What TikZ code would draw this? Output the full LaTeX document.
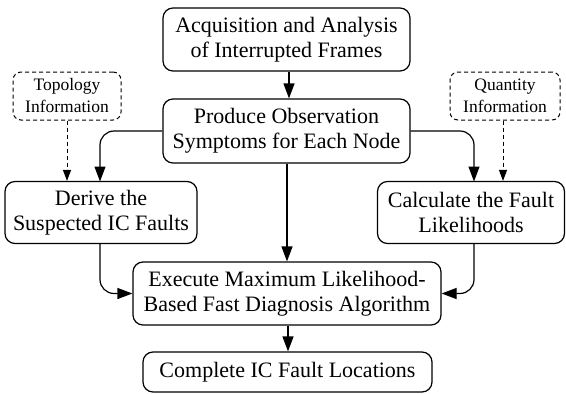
\documentclass[tikz,border=0pt]{standalone}
\usepackage{fontspec}
\setmainfont{Liberation Serif}
\usetikzlibrary{arrows.meta}
\begin{document}
\begin{tikzpicture}[x=1pt,y=1pt,
  mainbox/.style={draw, line width=1.2pt, rounded corners=10pt, align=center, inner sep=0pt,
    font=\fontsize{22}{25}\selectfont},
  infobox/.style={draw, dashed, line width=1pt, rounded corners=8pt, align=center, inner sep=0pt,
    font=\fontsize{17.5}{22}\selectfont, dash pattern=on 4pt off 3pt},
  solidarrow/.style={line width=1.2pt, -{Triangle[length=15pt,width=11pt]}, rounded corners=14pt},
  dasharrow/.style={line width=1pt, dashed, dash pattern=on 4pt off 3pt, -{Triangle[length=11pt,width=8pt]}}
]
\useasboundingbox (0,0) rectangle (566,-394);
\node[mainbox, minimum width=247pt, minimum height=63pt] (acq) at (286.5,-39.5)
  {Acquisition and Analysis\\of Interrupted Frames};
\node[mainbox, minimum width=247pt, minimum height=64pt] (prod) at (286.5,-131)
  {Produce Observation\\Symptoms for Each Node};
\node[infobox, minimum width=108pt, minimum height=48pt] (topo) at (67,-96)
  {Topology\\Information};
\node[infobox, minimum width=110pt, minimum height=48pt] (quant) at (505,-96)
  {Quantity\\Information};
\node[mainbox, minimum width=192pt, minimum height=62pt] (der) at (101,-212.5)
  {Derive the\\Suspected IC Faults};
\node[mainbox, minimum width=187pt, minimum height=62pt] (calc) at (471,-212.5)
  {Calculate the Fault\\Likelihoods};
\node[mainbox, minimum width=308pt, minimum height=63pt] (exec) at (287,-293.5)
  {Execute Maximum Likelihood-\\Based Fast Diagnosis Algorithm};
\node[mainbox, minimum width=289pt, minimum height=40pt] (comp) at (287.5,-372)
  {Complete IC Fault Locations};

\coordinate (dtop) at (100,-181.5);
\coordinate (ctop) at (474,-181.5);
\draw[solidarrow] (acq.south -| 289,0) -- (prod.north -| 289,0);
\draw[solidarrow] (prod.west) -| (dtop);
\draw[solidarrow] (prod.east) -| (ctop);
\draw[dasharrow] (topo.south) -- (topo.south |- der.north);
\draw[dasharrow] (quant.south -| 503,0) -- (der.north -| 503,0);
\draw[solidarrow] (prod.south -| 287,0) -- (exec.north -| 287,0);
\draw[solidarrow] (der.south -| 100,0) |- (exec.west);
\draw[solidarrow] (calc.south -| 474,0) |- (exec.east);
\draw[solidarrow] (exec.south -| 288,0) -- (comp.north -| 288,0);
\end{tikzpicture}
\end{document}
